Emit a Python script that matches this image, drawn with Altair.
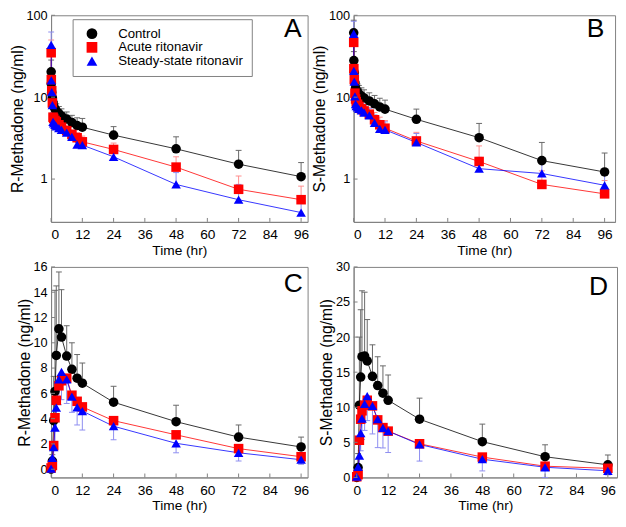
import altair as alt
import pandas as pd

GROUPS = ["Control", "Acute ritonavir", "Steady-state ritonavir"]
POINT_COLORS = ["#000000", "#ff0000", "#0000ff"]
LINE_COLORS = ["#000000", "#ff0000", "#0000ff"]
ERR_COLORS = ["#666666", "#ff8c8c", "#8c8cf0"]
SHAPES = ["circle", "square", "triangle-up"]
FONT = "Liberation Sans"
GRAY = "#808080"

# sampling times (hr)
iv_times = [0.033, 0.083, 0.25, 0.5, 0.75, 1, 1.5, 2, 3, 4, 6, 8, 10, 12, 24, 48, 72, 96]
oral_times = [0, 0.5, 1, 1.5, 2, 3, 4, 6, 8, 10, 12, 24, 48, 72, 96]

# Panel A: R-methadone, IV
a_ctrl = [20.4, 14.6, 11.5, 9.8, 8.6, 7.8, 7.2, 6.8, 6.3, 5.9, 5.4, 4.9, 4.5, 4.3, 3.44, 2.34, 1.52, 1.07]
a_acute = [34.9, 16.4, 12.0, 8.5, 5.7, 5.5, 5.2, 5.0, 4.6, 4.3, 3.9, 3.5, 3.2, 2.85, 2.3, 1.4, 0.75, 0.56]
a_steady = [43.5, 16.0, 11.5, 8.0, 5.0, 4.8, 4.6, 4.4, 4.2, 4.0, 3.7, 3.28, 2.63, 2.6, 1.87, 0.86, 0.56, 0.39]
a_ctrl_sd = [8, 4, 3, 2.5, 2, 1.8, 1.6, 1.5, 1.4, 1.3, 1.2, 1.1, 1.1, 1.2, 0.93, 0.94, 0.72, 0.52]
a_acute_sd = [15, 5, 3, 2, 1.5, 1.2, 1.0, 0.9, 0.8, 0.7, 0.6, 0.5, 0.5, 0.5, 0.45, 0.47, 0.34, 0.26]
a_steady_sd = [19, 5, 3, 2, 1.5, 1.2, 1.0, 0.9, 0.8, 0.7, 0.6, 0.5, 0.4, 0.4, 0.4, 0.34, 0.3, 0.2]

# Panel B: S-methadone, IV
b_ctrl = [61, 28, 20, 15, 13, 12.2, 11.5, 11, 10.3, 9.8, 9.0, 8.3, 7.6, 7.15, 5.37, 3.2, 1.68, 1.22]
b_acute = [46.7, 22.3, 16.4, 11.2, 9.5, 8.8, 8.2, 7.7, 7.2, 6.8, 6.2, 5.3, 4.6, 4.18, 2.92, 1.64, 0.86, 0.66]
b_steady = [59.5, 20.9, 15.5, 10.2, 8.2, 7.8, 7.5, 7.2, 6.9, 6.5, 6.0, 4.87, 4.1, 4.0, 2.8, 1.34, 1.17, 0.84]
b_ctrl_sd = [26, 8, 5, 4, 3.5, 3.2, 3, 2.9, 2.7, 2.5, 2.3, 2.2, 2.1, 2.05, 1.78, 1.58, 1.12, 0.86]
b_acute_sd = [20, 6, 4, 3, 2.5, 2, 1.8, 1.6, 1.5, 1.4, 1.3, 1.2, 1.1, 1.0, 0.8, 0.9, 0.4, 0.3]
b_steady_sd = [25, 6, 4, 3, 2.5, 2, 1.8, 1.6, 1.5, 1.4, 1.3, 1.2, 1.1, 1.0, 0.8, 0.5, 0.4, 0.3]

# Panel C: R-methadone, oral
c_ctrl = [0, 0.65, 3.84, 6.15, 9.0, 11.1, 10.45, 8.95, 7.9, 7.2, 6.8, 5.3, 3.76, 2.54, 1.76]
c_acute = [0.1, 0.3, 1.87, 4.07, 5.45, 6.6, 7.0, 7.2, 5.85, 5.37, 4.93, 3.84, 2.72, 1.63, 0.99]
c_steady = [0.05, 0.9, 1.74, 3.3, 4.87, 7.1, 7.7, 7.1, 5.75, 4.9, 4.6, 3.4, 2.05, 1.3, 0.75]
c_ctrl_sd = [0, 0.5, 3.5, 8.0, 5.5, 4.5, 3.75, 2.4, 2.1, 1.87, 1.6, 1.26, 1.3, 0.96, 0.78]
c_steady_sd = [0.4, 0.8, 1.0, 1.5, 1.8, 2.0, 2.2, 1.9, 1.25, 1.4, 1.5, 1.07, 0.75, 0.65, 0.36]

# Panel D: S-methadone, oral
d_ctrl = [0, 1.4, 10.3, 14.3, 17.2, 17.3, 16.6, 14.4, 13.1, 12.0, 11.0, 8.3, 5.1, 2.95, 1.8]
d_acute = [0.1, 0.4, 5.3, 8.3, 9.5, 10.3, 11.0, 10.2, 8.2, 7.1, 6.6, 4.8, 2.9, 1.6, 1.3]
d_steady = [0.1, 1.5, 3.1, 6.3, 8.4, 10.5, 11.6, 10.2, 8.3, 7.05, 6.6, 4.7, 2.6, 1.45, 0.95]
d_ctrl_sd = [0, 2, 9.7, 9.6, 9.4, 9.1, 5.9, 4.5, 4.1, 3.9, 3.6, 3.0, 2.5, 1.7, 1.4]
d_steady_sd = [0.2, 1.0, 2.0, 2.5, 3.0, 3.8, 3.5, 4.0, 4.05, 2.85, 3.05, 2.37, 1.67, 1.45, 0.58]

x_ticks = [0, 12, 24, 36, 48, 60, 72, 84, 96]
log_ticks = [1, 10, 100]
c_ticks = [0, 2, 4, 6, 8, 10, 12, 14, 16]
d_ticks = [0, 5, 10, 15, 20, 25, 30]


def make_df(times, series, sds, dirs):
    rows = []
    for g, vals, sd, d in zip(GROUPS, series, sds, dirs):
        for i, (t, v) in enumerate(zip(times, vals)):
            r = {"t": t, "value": v, "g": g, "lo": None, "hi": None, "cap": None}
            if sd is not None and sd[i] > 0:
                if d == "up":
                    r["lo"], r["hi"], r["cap"] = v, v + sd[i], v + sd[i]
                else:
                    r["lo"], r["hi"], r["cap"] = max(v - sd[i], 0), v, max(v - sd[i], 0)
            rows.append(r)
    return pd.DataFrame(rows)


def panel(df, ytitle, letter, ydomain, ylog, yticks, xdomain, w, h, ldx, ly, legend):
    xs = alt.Scale(domain=xdomain, nice=False, zero=False)
    if ylog:
        ys = alt.Scale(type="log", domain=ydomain, nice=False)
    else:
        ys = alt.Scale(domain=ydomain, nice=False, zero=False)
    xaxis = alt.Axis(values=x_ticks, title="Time (hr)", ticks=False, grid=False,
                     labelPadding=6, titlePadding=2, format="d")
    yaxis = alt.Axis(values=yticks, title=ytitle, ticks=False, grid=False,
                     labelPadding=4, titlePadding=1, format="d")

    def X(f):
        return alt.X(f, type="quantitative", scale=xs, axis=xaxis)

    def Y(f):
        return alt.Y(f, type="quantitative", scale=ys, axis=yaxis)

    base = alt.Chart(df)
    layers = []
    # error bars and caps, one layer per group
    for g, ec in zip(GROUPS, ERR_COLORS):
        sub = base.transform_filter(alt.datum.g == g).transform_filter("datum.hi != null")
        layers.append(sub.mark_rule(strokeWidth=1, color=ec).encode(
            x=X("t"), y=Y("lo"), y2=alt.Y2("hi")))
        layers.append(sub.mark_point(shape="stroke", size=36, strokeWidth=1, opacity=1, color=ec).encode(
            x=X("t"), y=Y("cap")))
    # connecting lines
    for g, lc in zip(GROUPS, LINE_COLORS):
        sub = base.transform_filter(alt.datum.g == g)
        layers.append(sub.mark_line(strokeWidth=0.8, color=lc).encode(x=X("t"), y=Y("value")))
    if legend:
        leg = alt.Legend(title=None, orient="none", legendX=22, legendY=4,
                         strokeColor=GRAY, fillColor="white", padding=8,
                         symbolOffset=5, labelOffset=20, labelFontSize=13.5,
                         labelFont=FONT, symbolSize=120, rowPadding=-3,
                         labelColor="black")
    else:
        leg = None
    layers.append(base.mark_point(filled=True, size=95, opacity=1).encode(
        x=X("t"), y=Y("value"),
        color=alt.Color("g:N", scale=alt.Scale(domain=GROUPS, range=POINT_COLORS), legend=leg),
        shape=alt.Shape("g:N", scale=alt.Scale(domain=GROUPS, range=SHAPES), legend=leg)))
    layers.append(alt.Chart(pd.DataFrame({"value": yticks})).mark_rule(color=GRAY).encode(
        y=Y("value"), x=alt.value(0), x2=alt.value(4)))
    layers.append(alt.Chart(pd.DataFrame({"t": x_ticks})).mark_rule(color=GRAY).encode(
        x=X("t"), y=alt.value(h), y2=alt.value(h - 4)))
    layers.append(alt.Chart(pd.DataFrame({"letter": [letter]})).mark_text(
        align="right", baseline="alphabetic", fontSize=27, font=FONT, color="black").encode(
        text="letter:N", x=alt.value(w - ldx), y=alt.value(ly)))
    return alt.layer(*layers).properties(width=w, height=h)


dfA = make_df(iv_times, [a_ctrl, a_acute, a_steady], [a_ctrl_sd, a_acute_sd, a_steady_sd], ["up", "up", "up"])
dfB = make_df(iv_times, [b_ctrl, b_acute, b_steady], [b_ctrl_sd, b_acute_sd, b_steady_sd], ["up", "up", "up"])
dfC = make_df(oral_times, [c_ctrl, c_acute, c_steady], [c_ctrl_sd, None, c_steady_sd], ["up", None, "down"])
dfD = make_df(oral_times, [d_ctrl, d_acute, d_steady], [d_ctrl_sd, None, d_steady_sd], ["up", None, "down"])

pA = panel(dfA, "R-Methadone (ng/ml)", "A", [0.3, 100], True, log_ticks, [0, 98.5], 262, 211, 6, 22, True)
pB = panel(dfB, "S-Methadone (ng/ml)", "B", [0.3, 100], True, log_ticks, [0, 100], 267, 211, 11, 22, False)
pC = panel(dfC, "R-Methadone (ng/ml)", "C", [-0.65, 16], False, c_ticks, [0, 98.5], 262, 215, 5, 26, False)
pD = panel(dfD, "S-Methadone (ng/ml)", "D", [0, 30], False, d_ticks, [-1.2, 99.5], 269, 215, 9, 29, False)

chart = alt.concat(pA, pB, pC, pD, columns=2, spacing={"row": 46, "column": 47}, bounds="flush").resolve_scale(
    x="independent", y="independent", color="independent", shape="independent"
).resolve_legend(
    color="independent", shape="independent"
).properties(
    padding={"left": 0, "top": -5, "right": 0, "bottom": 0}
).configure_axis(
    labelFont=FONT, titleFont=FONT, labelFontSize=13, labelColor="black",
    titleColor="black", titleFontWeight="normal", domainColor=GRAY
).configure_axisY(titleFontSize=16).configure_axisX(titleFontSize=14, labelFontSize=14).configure_view(
    stroke=GRAY, strokeWidth=1
)

chart.save("out.html", embed_options={"renderer": "svg", "actions": False})
